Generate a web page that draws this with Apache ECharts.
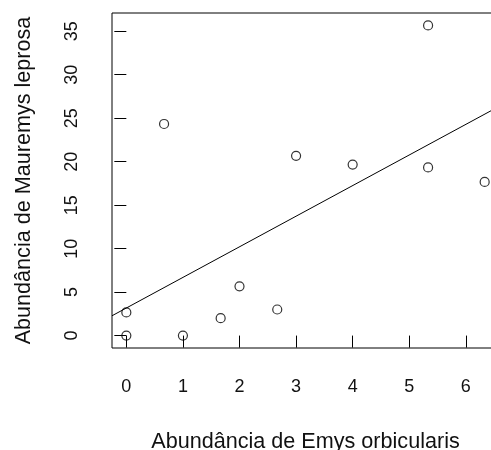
<!DOCTYPE html>
<html>
<head>
<meta charset="utf-8">
<script src="https://cdn.jsdelivr.net/npm/echarts@6/dist/echarts.min.js"></script>
<style>
  html, body { margin: 0; padding: 0; background: #fff; }
  #chart { width: 491px; height: 450px; }
</style>
</head>
<body>
<div id="chart"></div>
<script>
// Abundance per site: Emys orbicularis (x) vs Mauremys leprosa (y)
const emys     = [0, 0, 1, 0.667, 1.667, 2, 2.667, 3, 4, 5.333, 5.333, 6.333];
const mauremys = [0, 2.667, 0, 24.333, 2, 5.667, 3, 20.667, 19.667, 35.667, 19.333, 17.667];

const xTicks = [0, 1, 2, 3, 4, 5, 6];
const yTicks = [0, 5, 10, 15, 20, 25, 30, 35];

const xTitle = 'Abundância de Emys orbicularis';
const yTitle = 'Abundância de Mauremys leprosa';

// axis ranges padded 4% on each side of the data range
function padRange(v) {
  const lo = Math.min(...v), hi = Math.max(...v), p = (hi - lo) * 0.04;
  return [lo - p, hi + p];
}
const [xMin, xMax] = padRange(emys);
const [yMin, yMax] = padRange(mauremys);

// least-squares fit of mauremys on emys
const n = emys.length;
const mx = emys.reduce((a, b) => a + b, 0) / n;
const my = mauremys.reduce((a, b) => a + b, 0) / n;
let sxy = 0, sxx = 0;
for (let i = 0; i < n; i++) {
  sxy += (emys[i] - mx) * (mauremys[i] - my);
  sxx += (emys[i] - mx) ** 2;
}
const slope = sxy / sxx;
const intercept = my - slope * mx;
const fitLine = [xMin, xMax].map(x => [x, intercept + slope * x]);

const FONT = 'Liberation Sans, Arial, sans-serif';
const TXT = '#111';
const TICK_SIZE = 18;
const TITLE_SIZE = 21.6;

const chart = echarts.init(document.getElementById('chart'), null, { renderer: 'canvas' });
chart.setOption({
  animation: false,
  backgroundColor: '#fff',
  grid: {
    left: 112, top: 13, right: -8, bottom: 102,
    outerBoundsMode: 'none',
    containLabel: false,
    show: true, borderColor: '#000', borderWidth: 1, backgroundColor: 'transparent'
  },
  xAxis: {
    type: 'value', min: xMin, max: xMax,
    splitLine: { show: false },
    axisLine: { show: false },
    axisTick: { show: true, inside: false, length: 12, lineStyle: { color: '#000', width: 1 }, customValues: xTicks },
    axisLabel: { customValues: xTicks, margin: 30, color: TXT, fontSize: TICK_SIZE, fontFamily: FONT },
    name: xTitle, nameLocation: 'middle', nameGap: 83,
    nameTextStyle: { color: TXT, fontSize: TITLE_SIZE, fontFamily: FONT }
  },
  yAxis: {
    type: 'value', min: yMin, max: yMax,
    splitLine: { show: false },
    axisLine: { show: false },
    axisTick: { show: true, inside: false, length: 12, lineStyle: { color: '#000', width: 1 }, customValues: yTicks },
    axisLabel: { customValues: yTicks, rotate: 90, margin: 31, color: TXT, fontSize: TICK_SIZE, fontFamily: FONT, align: 'center', verticalAlign: 'bottom' },
    name: yTitle, nameLocation: 'middle', nameGap: 77, nameRotate: 90,
    nameTextStyle: { color: TXT, fontSize: TITLE_SIZE, fontFamily: FONT }
  },
  series: [
    {
      type: 'line',
      data: fitLine,
      symbol: 'none',
      clip: true,
      lineStyle: { color: '#000', width: 1 },
      silent: true
    },
    {
      type: 'scatter',
      data: emys.map((x, i) => [x, mauremys[i]]),
      symbol: 'circle',
      symbolSize: 9,
      itemStyle: { color: 'rgba(255,255,255,0)', borderColor: '#000', borderWidth: 1.2 }
    }
  ]
});
</script>
</body>
</html>
